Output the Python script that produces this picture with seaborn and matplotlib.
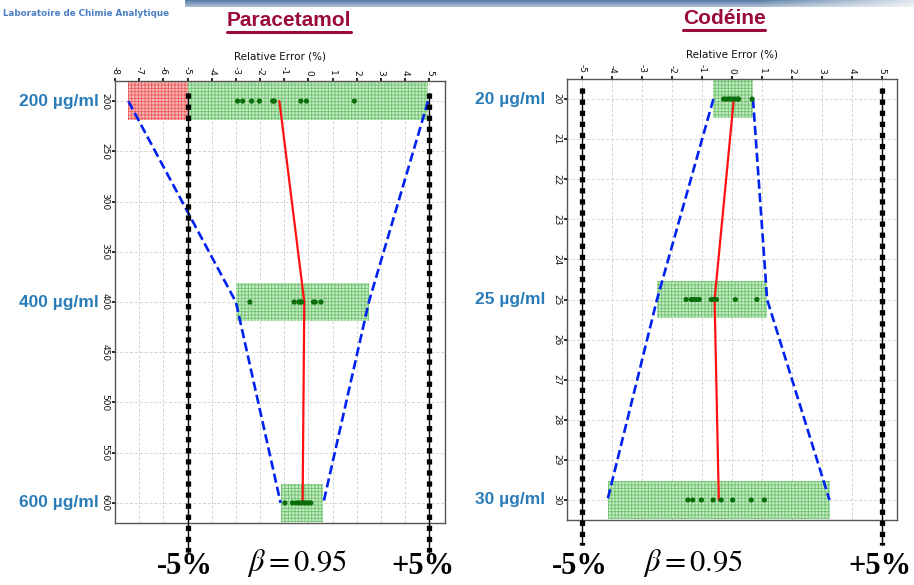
import numpy as np
import pandas as pd
import matplotlib
matplotlib.use("Agg")
import matplotlib.pyplot as plt
import matplotlib.transforms as mtransforms
from matplotlib.patches import Rectangle
from matplotlib.lines import Line2D
import seaborn as sns

# ---------------- data ----------------
acceptance = 5.0
beta_text = r"$\beta = 0.95$"

# Paracetamol: concentration levels (µg/ml)
para_levels = [200, 400, 600]
para_level_labels = ["200 µg/ml", "400 µg/ml", "600 µg/ml"]
para_bias = [-1.20, -0.17, -0.24]
para_tol_low = [-7.45, -3.00, -1.15]
para_tol_high = [4.95, 2.50, 0.62]
para_err_200 = [-2.93, -2.72, -2.35, -2.03, -1.48, -1.41, -0.31, -0.08, 1.90]
para_err_400 = [-2.42, -0.59, -0.40, -0.34, -0.28, 0.21, 0.28, 0.52]
para_err_600 = [-0.97, -0.66, -0.50, -0.40, -0.30, -0.20, -0.10, 0.00, 0.10]
para_xticks = list(range(-8, 6))
para_yticks = list(range(200, 601, 50))

# Codéine: concentration levels (µg/ml)
cod_levels = [20, 25, 30]
cod_level_labels = ["20 µg/ml", "25 µg/ml", "30 µg/ml"]
cod_bias = [0.06, -0.58, -0.44]
cod_tol_low = [-0.62, -2.50, -4.15]
cod_tol_high = [0.70, 1.17, 3.25]
cod_err_20 = [-0.28, -0.20, -0.12, -0.05, 0.02, 0.10, 0.18, 0.22, 0.67]
cod_err_25 = [-1.53, -1.36, -1.28, -1.19, -1.09, -0.69, -0.63, -0.52, 0.11, 0.83]
cod_err_30 = [-1.47, -1.31, -1.02, -0.63, -0.36, 0.02, 0.64, 1.08]
cod_xticks = list(range(-5, 6))
cod_yticks = list(range(20, 31))

para_points = pd.DataFrame({
    "level": [200] * len(para_err_200) + [400] * len(para_err_400) + [600] * len(para_err_600),
    "error": para_err_200 + para_err_400 + para_err_600,
})
cod_points = pd.DataFrame({
    "level": [20] * len(cod_err_20) + [25] * len(cod_err_25) + [30] * len(cod_err_30),
    "error": cod_err_20 + cod_err_25 + cod_err_30,
})

# ---------------- style ----------------
sns.set_theme(style="whitegrid")
plt.rcParams["font.family"] = ["DejaVu Sans"]
plt.rcParams["mathtext.fontset"] = "stix"
plt.rcParams["hatch.linewidth"] = 0.6
plt.rcParams["axes.unicode_minus"] = False

W, H = 914, 585
fig = plt.figure(figsize=(W / 100, H / 100), dpi=100)
fig.patch.set_facecolor("white")

LABEL_BLUE = "#2a7cb9"
TITLE_RED = "#9a0a3a"


def fx(px):
    return px / W


def fy(py):
    return 1 - py / H


def draw_panel(ax, levels, bias, low, high, points, xlim, ylim, xticks, yticks):
    span = abs(ylim[0] - ylim[1])
    half = 0.043 * span
    for lv, lo, hi in zip(levels, low, high):
        g_lo, g_hi = max(lo, -acceptance), min(hi, acceptance)
        ax.add_patch(Rectangle((g_lo, lv - half), g_hi - g_lo, 2 * half,
                               facecolor="#c6e9c6", edgecolor="#6cc46c",
                               hatch="+++++", lw=0, zorder=1.5))
        if lo < -acceptance:
            ax.add_patch(Rectangle((lo, lv - half), -acceptance - lo, 2 * half,
                                   facecolor="#f7b8b8", edgecolor="#f05a5a",
                                   hatch="+++++", lw=0, zorder=1.5))
        if hi > acceptance:
            ax.add_patch(Rectangle((acceptance, lv - half), hi - acceptance, 2 * half,
                                   facecolor="#f7b8b8", edgecolor="#f05a5a",
                                   hatch="+++++", lw=0, zorder=1.5))

    # tolerance limits
    for tol in (low, high):
        sns.lineplot(x=tol, y=levels, sort=False, estimator=None, ax=ax,
                     color="#0022ee", lw=1.9, dashes=False, zorder=3)
        ax.lines[-1].set_dashes((3.5, 1.6))
    # mean bias
    sns.lineplot(x=bias, y=levels, sort=False, estimator=None, ax=ax,
                 color="#ff1010", lw=1.6, zorder=4)
    # individual results
    sns.scatterplot(data=points, x="error", y="level", ax=ax, color="#0a6e0a",
                    s=14, edgecolor="none", zorder=5, legend=False)

    ax.set_xlim(*xlim)
    ax.set_ylim(*ylim)
    ax.set_xticks(xticks)
    ax.set_yticks(yticks)
    ax.xaxis.tick_top()
    ax.xaxis.set_label_position("top")
    ax.set_xlabel("Relative Error (%)", fontsize=7.5, labelpad=5, color="#111111")
    ax.set_ylabel("")
    ax.tick_params(axis="x", labelsize=6.5, rotation=-90, pad=2, length=2,
                   colors="#111111", top=True, bottom=False)
    ax.tick_params(axis="y", labelsize=6.5, pad=2, length=2, colors="#111111",
                   left=True)
    for lab in ax.get_yticklabels():
        lab.set_rotation(-90)
        lab.set_va("center")
    ax.grid(True, color="#d4d4d4", ls=(0, (3, 2)), lw=0.7)
    ax.set_facecolor("white")
    for sp in ax.spines.values():
        sp.set_color("#555555")
        sp.set_linewidth(1.0)


ax1 = fig.add_axes([fx(115), fy(523), fx(445) - fx(115), fy(81) - fy(523)])
ax2 = fig.add_axes([fx(567), fy(520), fx(897) - fx(567), fy(79) - fy(520)])

draw_panel(ax1, para_levels, para_bias, para_tol_low, para_tol_high, para_points,
           (-8.0, 5.65), (620, 180), para_xticks, para_yticks)
draw_panel(ax2, cod_levels, cod_bias, cod_tol_low, cod_tol_high, cod_points,
           (-5.5, 5.5), (30.5, 19.5), cod_xticks, cod_yticks)

# acceptance limits, running past the frame
for ax, (top, bottom) in ((ax1, (0.973, -0.066)), (ax2, (0.98, -0.057))):
    tr = mtransforms.blended_transform_factory(ax.transData, ax.transAxes)
    for lim in (-acceptance, acceptance):
        ax.plot([lim, lim], [top, bottom], transform=tr, color="black", lw=1.0,
                clip_on=False, zorder=6)
        ax.plot([lim, lim], [top, bottom], transform=tr, color="black", lw=3.8,
                ls=(0, (1, 1.1)), dash_capstyle="butt", clip_on=False, zorder=6)

# concentration labels on the left of each panel
for ax, levels, labels, right in ((ax1, para_levels, para_level_labels, 99),
                                  (ax2, cod_levels, cod_level_labels, 545)):
    tr = mtransforms.blended_transform_factory(fig.transFigure, ax.transData)
    for lv, lab in zip(levels, labels):
        ax.text(fx(right), lv, lab, transform=tr, ha="right", va="center",
                fontsize=12.5, fontweight="bold", color=LABEL_BLUE,
                family=["Liberation Sans", "DejaVu Sans"], clip_on=False)

# panel titles, underlined
titles = []
for x, y, name in ((289, 20, "Paracetamol"), (724, 18, "Codéine")):
    titles.append(fig.text(fx(x), fy(y), name, ha="center", va="center",
                           fontsize=15, fontweight="bold", color=TITLE_RED,
                           family=["Liberation Sans", "DejaVu Sans"]))
fig.canvas.draw()
renderer = fig.canvas.get_renderer()
for t in titles:
    bb = t.get_window_extent(renderer).transformed(fig.transFigure.inverted())
    fig.add_artist(Line2D([bb.x0, bb.x1], [bb.y0 - 0.004, bb.y0 - 0.004],
                          transform=fig.transFigure, color=TITLE_RED, lw=2.2))

# bottom annotations
serif = ["Liberation Serif", "DejaVu Serif"]
for x, s in ((185, "-5%"), (423, "+5%"), (580, "-5%"), (880, "+5%")):
    fig.text(fx(x), fy(566), s, ha="center", va="center", fontsize=22,
             fontweight="bold", family=serif, color="black")
for x in (297, 693):
    fig.text(fx(x), fy(563), beta_text, ha="center", va="center", fontsize=22,
             color="black")

# header: lab name and banner strip
fig.text(fx(3), fy(13), "Laboratoire de Chimie Analytique", ha="left",
         va="center", fontsize=6.3, fontweight="bold", color="#4b7fc2")
band = fig.add_axes([fx(185), fy(7), 1 - fx(185), fy(0) - fy(7)])
g2 = np.outer(np.linspace(1.0, 0.5, 8),
              np.concatenate([np.ones(200), np.linspace(1, 0.2, 56)]))
band.imshow(g2, aspect="auto",
            cmap=sns.blend_palette(["#ffffff", "#5a7ea6"], as_cmap=True),
            vmin=0, vmax=1)
band.set_axis_off()

fig.savefig("out.png", dpi=100, facecolor="white")
